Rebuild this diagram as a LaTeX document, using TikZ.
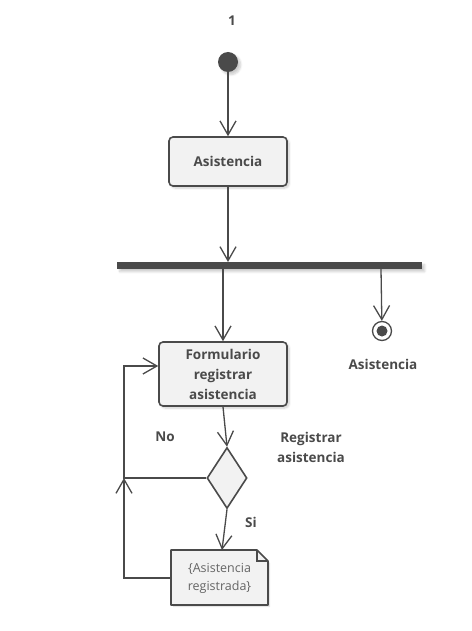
\documentclass[tikz,border=0pt]{standalone}
\usepackage{fontspec}
\setmainfont{Open Sans}
\usetikzlibrary{arrows.meta,shapes.geometric,shapes.misc,shadows.blur,calc}
\definecolor{ink}{HTML}{4A4A4A}
\definecolor{boxfill}{HTML}{F2F2F2}
\tikzset{
  lbl/.style={text=ink,font=\fontsize{13.5}{20}\selectfont\bfseries,align=center},
  act/.style={draw=ink,line width=1.6pt,fill=boxfill,rounded corners=4pt,
     lbl,inner sep=0pt,blur shadow={shadow blur steps=6,shadow xshift=2pt,shadow yshift=-2pt,shadow opacity=20}},
  flow/.style={draw=ink,line width=1.3pt,-{Straight Barb[length=14pt,width=16pt,line width=1.3pt]}},
}
\begin{document}
\begin{tikzpicture}[x=1pt,y=-1pt]
\useasboundingbox (0,0) rectangle (471,631);
% label 1
\node[lbl] (one) at (232,21) {1};
% initial
\node[circle,fill=ink,minimum size=20pt,inner sep=0pt,blur shadow={shadow blur steps=6,shadow opacity=20}] (init) at (228,62) {};
% Asistencia action
\node[act,minimum width=118pt,minimum height=49pt] (asis) at (228,161.5) {Asistencia};
% fork bar
\node[fill=ink,minimum width=305pt,minimum height=7pt,inner sep=0pt,blur shadow={shadow blur steps=6,shadow opacity=20}] (bar) at (269.5,265.5) {};
\coordinate (barA) at (223,269);
\coordinate (barB) at (381,269);
\coordinate (barIn) at (228,262);
% Formulario
\node[act,minimum width=128pt,minimum height=64pt] (form) at (223,374) {Formulario\\registrar\\asistencia};
% final node
\node[circle,draw=ink,line width=1.3pt,fill=white,minimum size=19pt,inner sep=0pt] (final) at (382,331) {};
\node[circle,fill=ink,minimum size=11pt,inner sep=0pt] (finalin) at (382,331) {};
\node[lbl] (finlbl) at (383,364) {Asistencia};
% decision
\node[diamond,draw=ink,line width=1.6pt,fill=boxfill,minimum width=40pt,minimum height=61pt,inner sep=0pt,aspect=0.65] (dec) at (227,478) {};
\node[lbl] (no) at (165,437) {No};
\node[lbl] (reg) at (311,447) {Registrar\\asistencia};
\node[lbl] (si) at (251,522) {Si};
% note
\coordinate (nTL) at (171,550);
\coordinate (nTR) at (257,550);
\coordinate (nRT) at (268,561);
\coordinate (nBR) at (268,605);
\coordinate (nBL) at (171,605);
\fill[ink!40,opacity=0.35] ($(nTL)+(2,2)$) -- ($(nTR)+(2,2)$) -- ($(nRT)+(2,2)$) -- ($(nBR)+(2,2)$) -- ($(nBL)+(2,2)$) -- cycle;
\filldraw[draw=ink,line width=1.6pt,fill=boxfill,line join=round] (nTL) -- (nTR) -- (nRT) -- (nBR) -- (nBL) -- cycle;
\draw[draw=ink,line width=1.2pt] (nTR) -- (257,561) -- (nRT);
\node[text=ink!85,font=\fontsize{12.5}{18}\selectfont,align=center] (note) at (219.5,578) {\{Asistencia\\registrada\}};
\coordinate (noteL) at (171,578);
\coordinate (noteT) at (222,550);
% connectors
\draw[flow] (init) -- (asis.north);
\draw[flow] (asis.south) -- (barIn);
\draw[flow] (barA) -- (form.north);
\draw[flow] (barB) -- (final);
\draw[flow] (form.south) -- (dec.north);
\draw[flow] (dec.south) -- (noteT);
\coordinate (loopA) at (124,478);
\coordinate (loopB) at (124,366);
\coordinate (loopC) at (124,578);
\draw[flow] (dec.west) -- (loopA) -- (loopB) -- (form.west |- loopB);
\draw[flow] (noteL) -- (loopC) -- (loopA);
\end{tikzpicture}
\end{document}
